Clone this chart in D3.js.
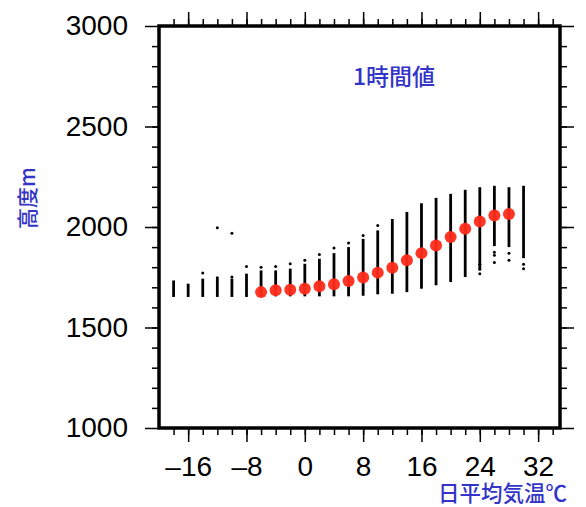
<!DOCTYPE html>
<html>
<head>
<meta charset="utf-8">
<script src="https://d3js.org/d3.v7.min.js"></script>
<style>
  body { margin: 0; background: #fff; }
  .tick text { font-family: "Liberation Sans", Arial, sans-serif; font-size: 28px; fill: #000; }
  .tick line { stroke: #000; stroke-width: 1.5; }
  .jp { font-family: "Noto Sans CJK JP", sans-serif; fill: #3434c8; font-weight: 500; }
</style>
</head>
<body>
<script>
// columns of hourly values (one column per 2 degC bin)
var colTemps = [-18, -16, -14, -12, -10, -8, -6, -4, -2, 0, 2, 4, 6, 8, 10, 12, 14, 16, 18, 20, 22, 24, 26, 28, 30];
var colLow  = [1652, 1652, 1652, 1652, 1652, 1652, 1652, 1655, 1655, 1655, 1655, 1655, 1655, 1658, 1665, 1668, 1676, 1693, 1710, 1726, 1751, 1790, 1905, 1900, 1845];
var colHigh = [1734, 1718, 1743, 1743, 1743, 1768, 1784, 1784, 1793, 1817, 1842, 1870, 1900, 1941, 1983, 2040, 2075, 2118, 2145, 2165, 2185, 2198, 2205, 2198, 2205];
// scattered single points outside the dense part of a column
var oddTemps = [-14, -12, -12, -10, -10, -8, -6, -4, -2, 0, 2, 4, 6, 8, 10, 24, 24, 24, 26, 26, 26, 28, 28, 30, 30];
var oddVals  = [1771, 1996, 1748, 1969, 1751, 1804, 1800, 1804, 1817, 1834, 1863, 1895, 1920, 1958, 2007, 1768, 1790, 1815, 1875, 1859, 1823, 1870, 1834, 1792, 1815];
// bin means (red)
var meanTemps = [-6, -4, -2, 0, 2, 4, 6, 8, 10, 12, 14, 16, 18, 20, 22, 24, 26, 28];
var meanVals  = [1676, 1685, 1688, 1693, 1705, 1715, 1731, 1749, 1773, 1797, 1834, 1870, 1908, 1950, 1991, 2027, 2057, 2065];

var xTicks = [-16, -8, 0, 8, 16, 24, 32];
var yTicks = [1000, 1500, 2000, 2500, 3000];

var width = 586, height = 507;
var x = d3.scaleLinear().domain([-20, 35]).range([159, 560]);
var y = d3.scaleLinear().domain([1000, 3000]).range([428, 26]);

var svg = d3.select("body").append("svg")
    .attr("width", width)
    .attr("height", height);

var fmt = function (d) { return d < 0 ? "\u2013" + Math.abs(d) : String(d); };

// minor ticks
svg.append("g").attr("transform", "translate(0,428)")
    .call(d3.axisBottom(x).tickValues(d3.range(-18, 35, 2)).tickSize(7).tickFormat(""));
svg.append("g").attr("transform", "translate(0,26)")
    .call(d3.axisTop(x).tickValues(d3.range(-18, 35, 2)).tickSize(7).tickFormat(""));
svg.append("g").attr("transform", "translate(159,0)")
    .call(d3.axisLeft(y).tickValues(d3.range(1100, 3000, 100)).tickSize(7).tickFormat(""));
svg.append("g").attr("transform", "translate(560,0)")
    .call(d3.axisRight(y).tickValues(d3.range(1100, 3000, 100)).tickSize(7).tickFormat(""));

// major ticks
svg.append("g").attr("transform", "translate(0,428)")
    .call(d3.axisBottom(x).tickValues(xTicks).tickSize(14).tickPadding(14).tickFormat(fmt));
svg.append("g").attr("transform", "translate(0,26)")
    .call(d3.axisTop(x).tickValues(xTicks).tickSize(14).tickFormat(""));
svg.append("g").attr("transform", "translate(159,0)")
    .call(d3.axisLeft(y).tickValues(yTicks).tickSize(14).tickPadding(17).tickFormat(d3.format("d")));
svg.append("g").attr("transform", "translate(560,0)")
    .call(d3.axisRight(y).tickValues(yTicks).tickSize(14).tickFormat(""));

svg.selectAll(".domain").remove();

// columns
svg.selectAll("line.col")
    .data(colTemps)
    .enter().append("line")
    .attr("class", "col")
    .attr("x1", function (d) { return x(d); })
    .attr("x2", function (d) { return x(d); })
    .attr("y1", function (d, i) { return y(colLow[i]); })
    .attr("y2", function (d, i) { return y(colHigh[i]); })
    .style("stroke", "#000")
    .style("stroke-width", 2.8);

svg.selectAll("circle.odd")
    .data(oddTemps)
    .enter().append("circle")
    .attr("class", "odd")
    .attr("cx", function (d) { return x(d); })
    .attr("cy", function (d, i) { return y(oddVals[i]); })
    .attr("r", 1.5)
    .style("fill", "#000");

svg.selectAll("circle.mean")
    .data(meanTemps)
    .enter().append("circle")
    .attr("class", "mean")
    .attr("cx", function (d) { return x(d); })
    .attr("cy", function (d, i) { return y(meanVals[i]); })
    .attr("r", 6)
    .style("fill", "#ff2a1a")
    .style("fill-opacity", 0.95);

// frame
svg.append("rect")
    .attr("x", 159).attr("y", 26)
    .attr("width", 401).attr("height", 402)
    .style("fill", "none")
    .style("stroke", "#000")
    .style("stroke-width", 3.5);

svg.append("text").attr("class", "jp")
    .attr("x", 353).attr("y", 85)
    .style("font-size", "23px")
    .text("1時間値");

svg.append("text").attr("class", "jp")
    .attr("x", 438).attr("y", 501)
    .style("font-size", "21.5px")
    .text("日平均気温℃");

svg.append("text").attr("class", "jp")
    .attr("transform", "translate(35,198) rotate(-90)")
    .attr("text-anchor", "middle")
    .style("font-size", "21px")
    .text("高度m");
</script>
</body>
</html>
